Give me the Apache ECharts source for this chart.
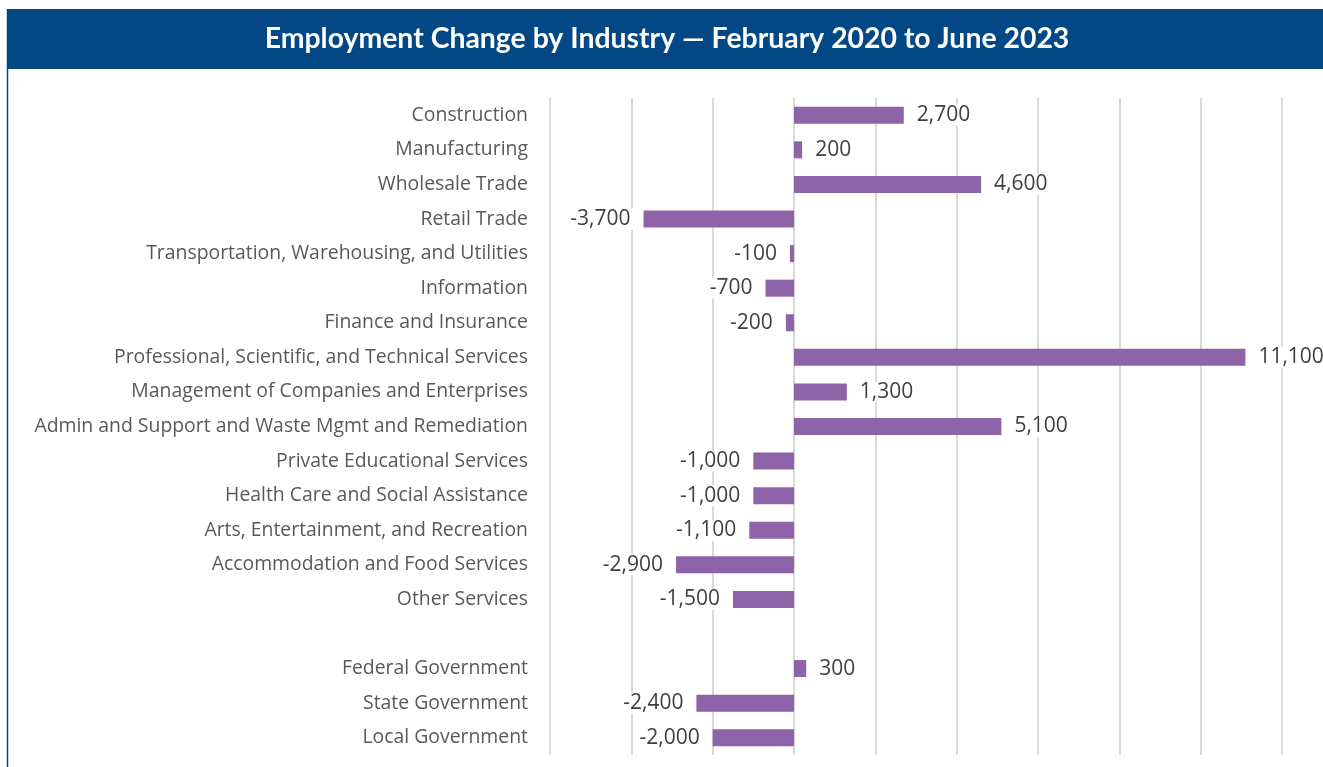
<!DOCTYPE html>
<html><head><meta charset="utf-8">
<script src="https://cdn.jsdelivr.net/npm/echarts@6/dist/echarts.min.js"></script>
<style>html,body{margin:0;padding:0;background:#fff}#c{width:1323px;height:767px}</style>
</head><body><div id="c"></div>
<script>
const titleText = 'Employment Change by Industry \u2014 February 2020 to June 2023';
const categories = ['Construction','Manufacturing','Wholesale Trade','Retail Trade','Transportation, Warehousing, and Utilities','Information','Finance and Insurance','Professional, Scientific, and Technical Services','Management of Companies and Enterprises','Admin and Support and Waste Mgmt and Remediation','Private Educational Services','Health Care and Social Assistance','Arts, Entertainment, and Recreation','Accommodation and Food Services','Other Services','','Federal Government','State Government','Local Government'];
const values = [2700,200,4600,-3700,-100,-700,-200,11100,1300,5100,-1000,-1000,-1100,-2900,-1500,null,300,-2400,-2000];
const axisMin = -6000, axisMax = 12000, axisStep = 2000;

const fmt = v => (v < 0 ? '-' : '') + Math.abs(v).toLocaleString('en-US');
const chart = echarts.init(document.getElementById('c'));
chart.setOption({
  animation:false,
  grid:{left:550,right:41,top:98,bottom:12,containLabel:false},
  graphic:[
    {type:'rect',shape:{x:7,y:9,width:1316,height:60},style:{fill:'#034885'},z:10},
    {type:'line',shape:{x1:7.5,y1:9,x2:7.5,y2:767},style:{stroke:'#034885',lineWidth:1.5},z:10},
    {type:'text',x:667,y:39,style:{text:titleText,fill:'#fff',font:'bold 28.4px Lato, "Open Sans", sans-serif',textAlign:'center',textVerticalAlign:'middle'},z:11}
  ],
  xAxis:{type:'value',min:axisMin,max:axisMax,interval:axisStep,
    axisLabel:{show:false},axisLine:{show:false},axisTick:{show:false},
    splitLine:{show:true,lineStyle:{color:'#d9d9d9',width:2}}},
  yAxis:{type:'category',data:categories,inverse:true,
    axisLine:{show:false},axisTick:{show:false},
    axisLabel:{color:'#595959',fontSize:19.4,fontFamily:'"Open Sans", sans-serif',margin:22}},
  series:[{type:'bar',barWidth:17,
    itemStyle:{color:'#8e63a8'},
    data:values.map(v=>v===null?{value:'-'}:{value:v,label:{position:v<0?'left':'right'}}),
    label:{show:true,distance:10,color:'#404040',fontSize:21,fontFamily:'"Open Sans", sans-serif',
      backgroundColor:'#fff',padding:[0,3],
      formatter:p=>fmt(p.value)}
  }]
});
</script></body></html>
